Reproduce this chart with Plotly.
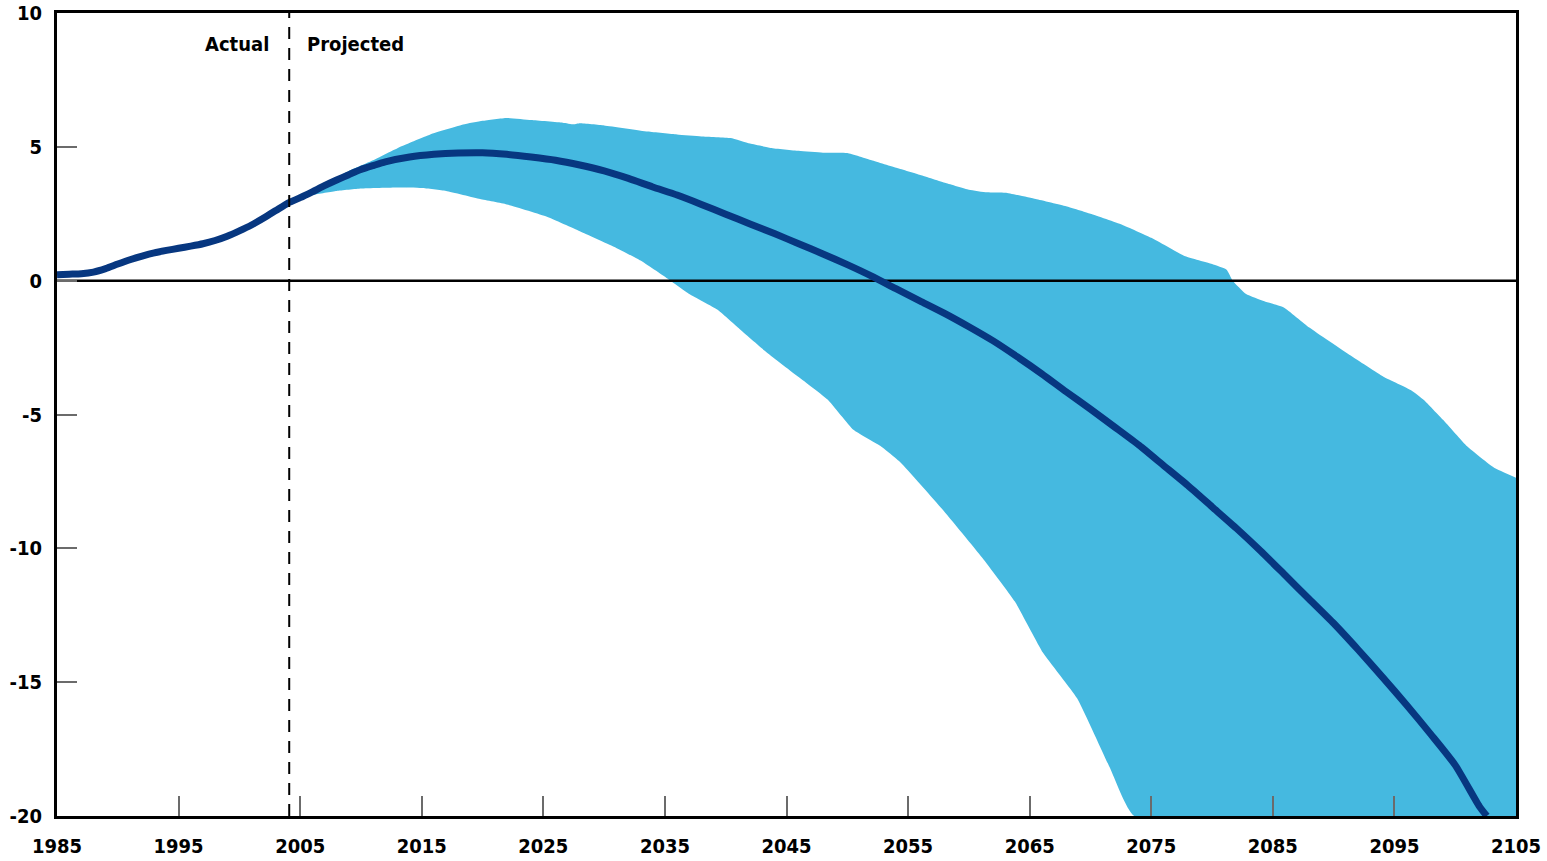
import plotly.graph_objects as go

# Central path: actual through 2004, projected afterwards
central_years = [1985, 1986, 1987, 1988, 1989, 1990, 1991, 1992, 1993, 1994,
                 1995, 1996, 1997, 1998, 1999, 2000, 2001, 2002, 2003, 2004,
                 2005, 2006, 2007, 2008, 2009, 2010, 2011, 2012, 2014, 2016,
                 2018, 2020, 2022, 2024, 2026, 2028, 2030, 2032, 2034, 2036,
                 2038, 2040, 2042, 2044, 2046, 2048, 2050, 2052, 2054, 2056,
                 2058, 2060, 2062, 2064, 2066, 2068, 2070, 2072, 2074, 2076,
                 2078, 2080, 2082, 2084, 2086, 2088, 2090, 2092, 2094, 2096,
                 2098, 2100, 2102, 2102.6]
central_values = [0.22, 0.24, 0.26, 0.32, 0.45, 0.62, 0.78, 0.92, 1.04, 1.13,
                  1.21, 1.29, 1.38, 1.50, 1.66, 1.86, 2.08, 2.34, 2.62, 2.90,
                  3.10, 3.32, 3.55, 3.76, 3.96, 4.15, 4.30, 4.44, 4.62, 4.72,
                  4.77, 4.78, 4.72, 4.62, 4.50, 4.32, 4.10, 3.82, 3.50, 3.20,
                  2.85, 2.48, 2.12, 1.76, 1.38, 1.00, 0.60, 0.17, -0.30, -0.76,
                  -1.22, -1.72, -2.25, -2.85, -3.48, -4.15, -4.80, -5.47, -6.15, -6.90,
                  -7.65, -8.45, -9.25, -10.10, -11.00, -11.90, -12.80, -13.78, -14.80, -15.85,
                  -16.95, -18.10, -19.65, -20.00]

# Upper edge of the projection range
upper_years = [2005, 2007, 2009, 2011, 2013, 2015.7, 2018.4, 2020, 2022, 2024,
               2026.6, 2027.5, 2028, 2030, 2033.6, 2036, 2038, 2040.4, 2042, 2043.7,
               2046, 2048, 2050, 2052, 2054.1, 2056, 2058.1, 2060, 2061.5, 2063,
               2065.5, 2068, 2070, 2072.6, 2075, 2077.8, 2080, 2081.2, 2081.7, 2082.8,
               2084.3, 2085.9, 2088, 2091.4, 2094.1, 2096.4, 2097.4, 2099, 2101, 2103.2,
               2105]
upper_values = [3.10, 3.62, 4.10, 4.50, 4.95, 5.46, 5.83, 5.97, 6.08, 6.00,
                5.90, 5.84, 5.88, 5.80, 5.57, 5.46, 5.39, 5.33, 5.12, 4.96,
                4.85, 4.78, 4.77, 4.50, 4.21, 3.95, 3.65, 3.40, 3.30, 3.28,
                3.05, 2.78, 2.50, 2.09, 1.60, 0.91, 0.62, 0.41, 0.00, -0.50,
                -0.77, -1.00, -1.75, -2.80, -3.59, -4.10, -4.45, -5.20, -6.20, -6.99,
                -7.36]

# Lower edge of the projection range (held at the axis floor once it leaves the chart)
lower_years = [2005, 2006.1, 2008, 2010, 2013, 2015, 2017, 2019.8, 2022, 2025.3,
               2028, 2030.8, 2033, 2035.2, 2037, 2039.3, 2041, 2043.4, 2046, 2048.4,
               2050.5, 2052.7, 2054.4, 2057.8, 2061.1, 2063.8, 2066.1, 2068.9,
               2071.6, 2073.6, 2105]
lower_values = [3.10, 3.21, 3.35, 3.44, 3.48, 3.46, 3.35, 3.05, 2.85, 2.39,
                1.85, 1.27, 0.75, 0.08, -0.50, -1.08, -1.75, -2.69, -3.60, -4.45,
                -5.57, -6.17, -6.80, -8.53, -10.35, -12.00, -13.90, -15.60,
                -18.20, -20.00, -20.00]

x_ticks = list(range(1985, 2106, 10))
y_ticks = [10, 5, 0, -5, -10, -15, -20]
split_year = 2004.1

BAND = "#45B9E0"
NAVY = "#073780"
FONT = "Liberation Sans Narrow, DejaVu Sans Condensed, Arial Narrow, sans-serif"

fig = go.Figure()

fig.add_trace(go.Scatter(x=lower_years, y=lower_values, mode="lines",
                         line=dict(width=0, color=BAND, shape="spline", smoothing=0.4),
                         hoverinfo="skip", showlegend=False))
fig.add_trace(go.Scatter(x=upper_years, y=upper_values, mode="lines",
                         line=dict(width=0, color=BAND, shape="spline", smoothing=0.4),
                         fill="tonexty", fillcolor=BAND, hoverinfo="skip",
                         showlegend=False))

# zero reference line sits above the shaded range
fig.add_trace(go.Scatter(x=[x_ticks[0], x_ticks[-1]], y=[0, 0], mode="lines",
                         line=dict(width=2.5, color="black"), hoverinfo="skip",
                         showlegend=False))

fig.add_trace(go.Scatter(x=central_years, y=central_values, mode="lines",
                         line=dict(width=7, color=NAVY, shape="spline", smoothing=0.6),
                         showlegend=False))

fig.add_shape(type="line", x0=split_year, x1=split_year, y0=0, y1=1,
              xref="x", yref="paper", layer="above",
              line=dict(color="black", width=2, dash="12px,9px"))

fig.add_annotation(x=split_year - 1.5, y=8.85, text="Actual", showarrow=False,
                   xanchor="right", yanchor="middle",
                   font=dict(family=FONT, size=20, color="black", weight="bold"))
fig.add_annotation(x=split_year + 1.3, y=8.85, text="Projected", showarrow=False,
                   xanchor="left", yanchor="middle",
                   font=dict(family=FONT, size=20, color="black", weight="bold"))

fig.update_xaxes(range=[1985, 2105], tickvals=x_ticks,
                 ticktext=[str(v) for v in x_ticks],
                 ticks="inside", ticklen=20, tickwidth=2, tickcolor="#6b6b6b",
                 showgrid=False, zeroline=False, automargin=False,
                 showline=True, linecolor="black", linewidth=3, mirror=True,
                 ticklabelstandoff=10,
                 tickfont=dict(family=FONT, size=20, color="black", weight="bold"))
fig.update_yaxes(range=[-20, 10], tickvals=y_ticks,
                 ticktext=[str(v) for v in y_ticks],
                 ticks="inside", ticklen=20, tickwidth=2, tickcolor="#6b6b6b",
                 showgrid=False, zeroline=False, automargin=False,
                 showline=True, linecolor="black", linewidth=3, mirror=True,
                 ticklabelstandoff=8,
                 tickfont=dict(family=FONT, size=20, color="black", weight="bold"))

fig.update_layout(width=1547, height=861,
                  margin=dict(l=57, r=31, t=13, b=45),
                  plot_bgcolor="white", paper_bgcolor="white",
                  showlegend=False)

fig.write_html("out.html")
